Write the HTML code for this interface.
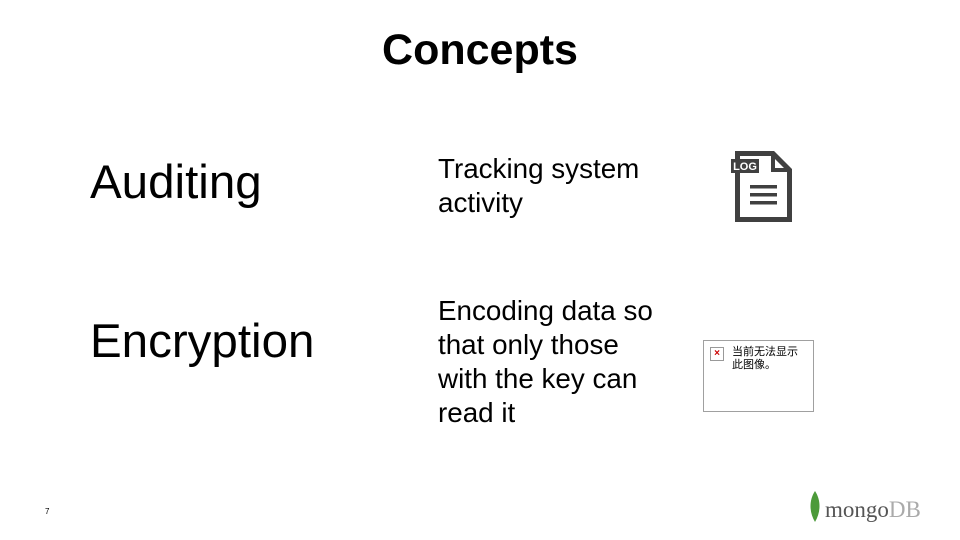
<!DOCTYPE html>
<html><head><meta charset="utf-8"><style>
body{margin:0;width:960px;height:540px;background:#fff;position:relative;overflow:hidden;font-family:"Liberation Sans",Arial,sans-serif;color:#000}
.a{position:absolute;white-space:nowrap}
</style></head><body>
<div class="a" style="left:0;width:960px;text-align:center;top:26px;font-size:43px;font-weight:bold">Concepts</div>
<div class="a" style="left:90px;top:155px;font-size:47.5px">Auditing</div>
<div class="a" style="left:90px;top:314px;font-size:47.5px">Encryption</div>
<div class="a" style="left:438px;top:152px;font-size:27.8px;line-height:34px">Tracking system<br>activity</div>
<div class="a" style="left:438px;top:294px;font-size:27.8px;line-height:34px">Encoding data so<br>that only those<br>with the key can<br>read it</div>
<svg class="a" style="left:728px;top:148px" width="70" height="80">
<path d="M9.5 5.5 H45 L61.5 22 V71.5 H9.5 Z" fill="none" stroke="#404040" stroke-width="5"/>
<path d="M45 5.5 V22 H61.5" fill="none" stroke="#404040" stroke-width="4"/>
<rect x="3" y="11" width="28" height="14" fill="#404040"/>
<text x="17" y="22" font-size="11" font-weight="bold" fill="#fff" text-anchor="middle" font-family="Liberation Sans">LOG</text>
<rect x="22" y="37" width="27" height="3.5" fill="#404040"/>
<rect x="22" y="45" width="27" height="3.5" fill="#404040"/>
<rect x="22" y="53" width="27" height="3.5" fill="#404040"/>
</svg>
<div class="a" style="left:703px;top:340px;width:109px;height:70px;border:1px solid #a0a0a0"></div>
<div class="a" style="left:710px;top:347px;width:12px;height:12px;border:1px solid #999;font-size:10px;line-height:12px;text-align:center;color:#c00;font-weight:bold">×</div>
<div class="a" style="left:732px;top:346px;font-size:11px;line-height:13px;font-family:'Liberation Sans','Noto Sans CJK SC',sans-serif">当前无法显示<br>此图像。</div>
<div class="a" style="left:45px;top:507px;font-size:8px">7</div>
<svg class="a" style="left:808px;top:490px" width="14" height="34"><path d="M7 1 C13 10 13 22 7 32 C1 22 1 10 7 1Z" fill="#4c9a3a"/></svg>
<div class="a" style="left:825px;top:497px;font-size:23px;font-family:'Liberation Serif',serif;color:#555">mongo<span style="color:#aaa">DB</span></div>
</body></html>
